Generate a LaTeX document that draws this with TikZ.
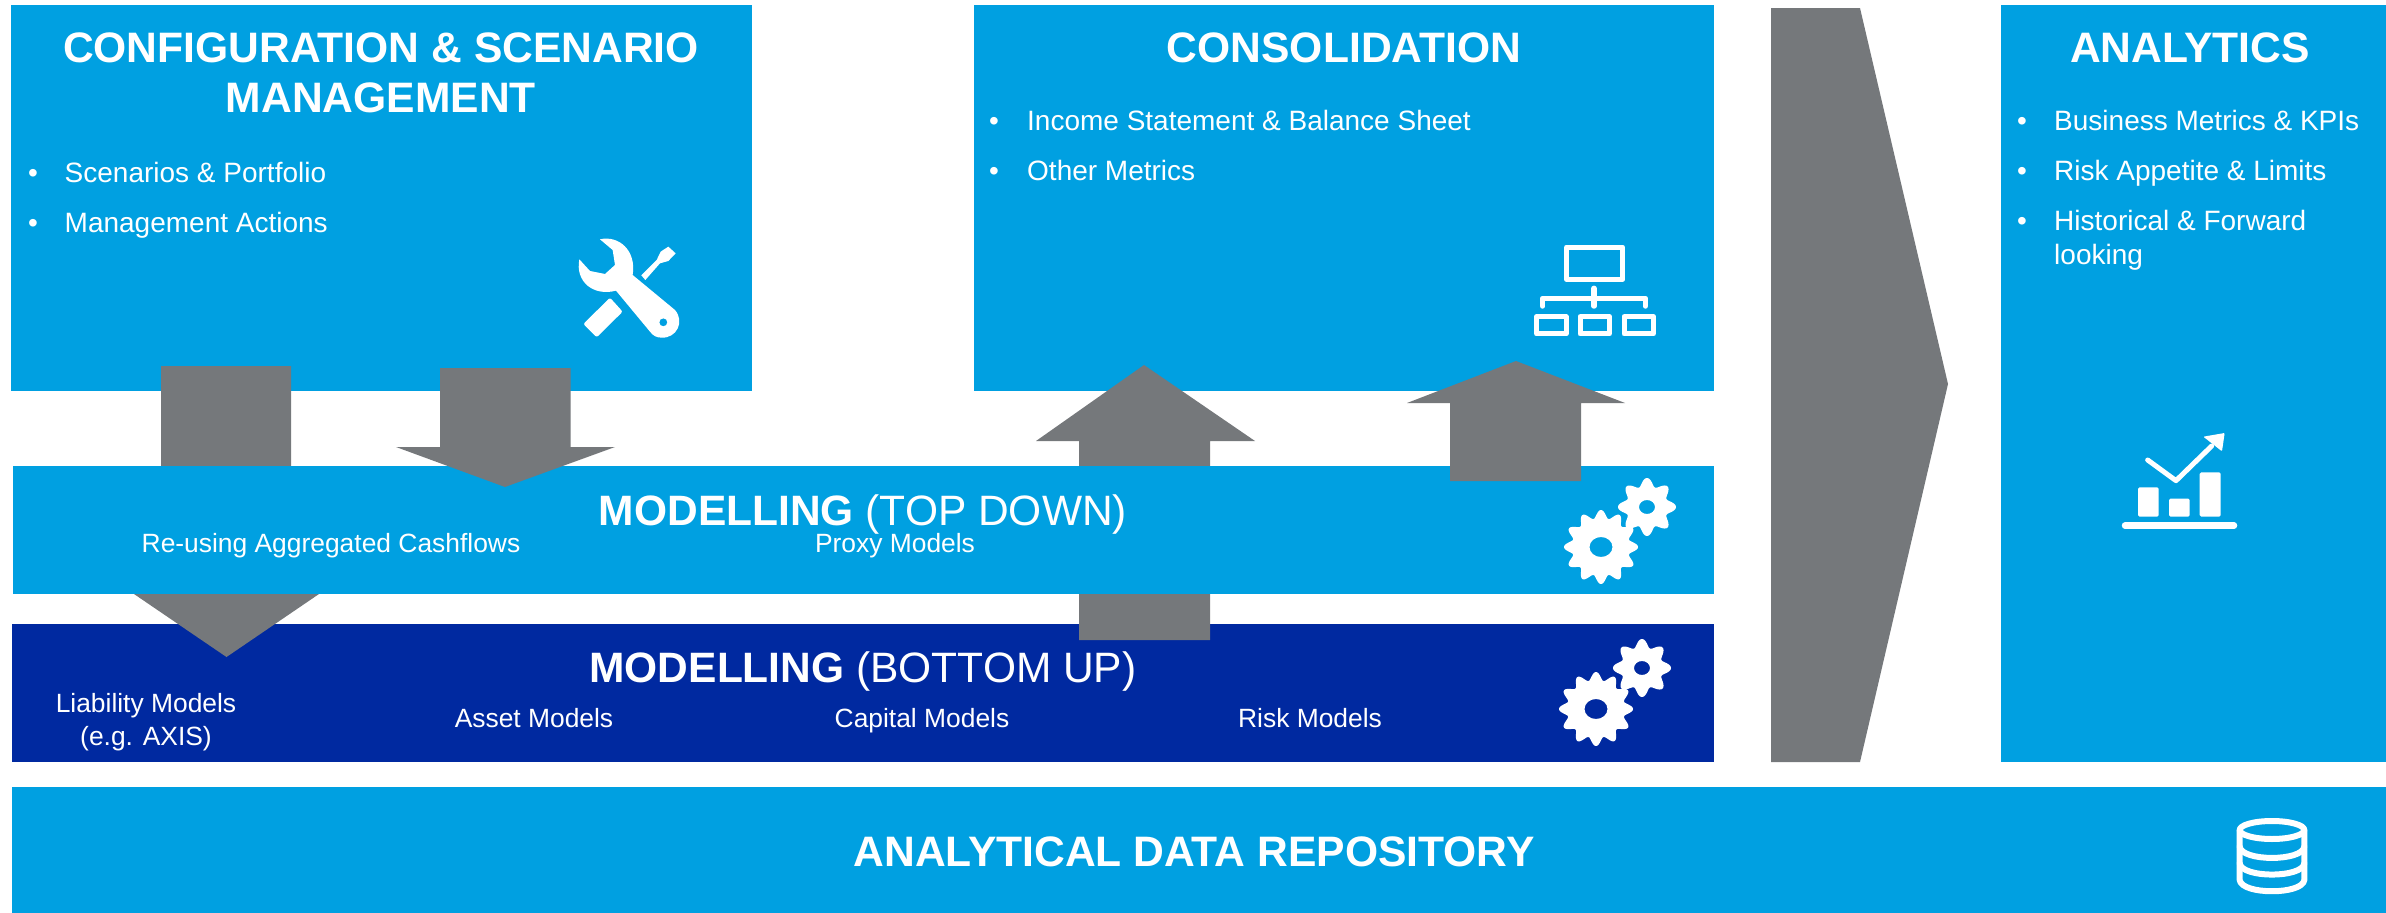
\documentclass[tikz,border=0pt]{standalone}
\usepackage{fontspec}
\setmainfont{Liberation Sans}
\definecolor{skyb}{HTML}{00A0E1}
\definecolor{navyb}{HTML}{0029A0}
\definecolor{arrowg}{HTML}{75787B}
\tikzset{
  panel/.style={fill=skyb,draw=none},
  darkpanel/.style={fill=navyb,draw=none},
  blockarrow/.style={fill=arrowg,draw=none},
  icon/.style={fill=white,draw=none},
  iconline/.style={draw=white,fill=none,line cap=round,line join=round},
  title/.style={text=white,font=\fontsize{42.6}{42.6}\selectfont\bfseries,anchor=base,inner sep=0pt},
  mtitle/.style={text=white,font=\fontsize{42.5}{42.5}\selectfont,anchor=base,inner sep=0pt},
  body/.style={text=white,font=\fontsize{28}{28}\selectfont,anchor=base west,inner sep=0pt},
  small/.style={text=white,font=\fontsize{26.4}{26.4}\selectfont,anchor=base,inner sep=0pt},
}
\newcommand{\gearshape}[7]{% cx cy outer root teeth hole-x hole-y
  \fill[icon,even odd rule] plot[domain=0:360,samples=300,smooth] ({#1+(#4+(#3-#4)*(0.5+0.5*cos(#5*\x)))*cos(\x)},{#2+(#4+(#3-#4)*(0.5+0.5*cos(#5*\x)))*sin(\x)}) -- cycle
  (#1,#2) ellipse [x radius=#6, y radius=#7];
}
\begin{document}
\begin{tikzpicture}[x=1pt,y=-1pt]
\useasboundingbox (0,0) rectangle (2386,913);
% panels
\path[panel] (11,5) rectangle (752,391);
\path[panel] (974,5) rectangle (1714,391);
\path[darkpanel] (12,624) rectangle (1714,762);
\path[panel] (2001,5) rectangle (2386,762);
\path[panel] (12,787) rectangle (2386,913);
% arrows behind the top-down panel
\path[blockarrow] (161,366) -- (291,366) -- (291,594) -- (319,594) -- (226.5,657) -- (134,594) -- (161,594) -- cycle;
\path[blockarrow] (1144,365) -- (1255,441) -- (1210,441) -- (1210,640) -- (1079,640) -- (1079,441) -- (1036,441) -- cycle;
\path[panel] (12.5,466) rectangle (1714,594);
% arrows in front
\path[blockarrow] (440,368) -- (570.5,368) -- (570.5,447) -- (615,447) -- (505,487) -- (396,447) -- (440,447) -- cycle;
\path[blockarrow] (1516,361) -- (1625,403) -- (1581,403) -- (1581,481) -- (1450,481) -- (1450,403) -- (1407,403) -- cycle;
\path[blockarrow] (1771,8) -- (1860,8) -- (1948,384) -- (1860,762) -- (1771,762) -- cycle;
% texts
\node[title] (cfg1) at (381,62) {CONFIGURATION \& SCENARIO};
\node[title] (cfg2) at (381,112) {MANAGEMENT};
\node[body,anchor=base] (bc1) at (33,182) {•};
\node[body] (c1) at (64.5,182) {Scenarios \& Portfolio};
\node[body,anchor=base] (bc2) at (33,232) {•};
\node[body] (c2) at (64.5,232) {Management Actions};
\node[title] (cons) at (1344,62) {CONSOLIDATION};
\node[body,anchor=base] (bd1) at (994,130) {•};
\node[body] (d1) at (1027,130) {Income Statement \& Balance Sheet};
\node[body,anchor=base] (bd2) at (994,180) {•};
\node[body] (d2) at (1027,180) {Other Metrics};
\node[title] (ana) at (2190,62) {ANALYTICS};
\node[body,anchor=base] (ba1) at (2022,130) {•};
\node[body] (a1) at (2054,130) {Business Metrics \& KPIs};
\node[body,anchor=base] (ba2) at (2022,180) {•};
\node[body] (a2) at (2054,180) {Risk Appetite \& Limits};
\node[body,anchor=base] (ba3) at (2022,230) {•};
\node[body] (a3) at (2054,230) {Historical \& Forward};
\node[body] (a4) at (2054,264) {looking};
\node[mtitle] (mt) at (863,525) {\textbf{MODELLING} (TOP DOWN)};
\node[small] (r1) at (331,552) {Re-using Aggregated Cashflows};
\node[small] (r2) at (895,552) {Proxy Models};
\node[mtitle] (mb) at (863,682) {\textbf{MODELLING} (BOTTOM UP)};
\node[small] (l1) at (146,712) {Liability Models};
\node[small] (l2) at (146,745) {(e.g. AXIS)};
\node[small] (l3) at (534,727) {Asset Models};
\node[small] (l4) at (922,727) {Capital Models};
\node[small] (l5) at (1310,727) {Risk Models};
\node[title] (adr) at (1194,866) {ANALYTICAL DATA REPOSITORY};
% gears
\gearshape{1601}{547}{37}{29}{12}{11.5}{10}
\gearshape{1647}{507}{29}{21}{8}{8}{7}
\gearshape{1596}{709}{37}{29}{12}{11.5}{10}
\gearshape{1642}{668}{29}{21}{8}{8}{7}
% wrench icon
\begin{scope}[shift={(540,200)},x=0.3333pt,y=-0.3333pt]
\fill[icon,even odd rule] (180,118) .. controls (235,105) and (290,150) .. (278,225)
  -- (405,330) .. controls (435,365) and (410,415) .. (365,413) .. controls (350,413) and (340,408) .. (330,395)
  -- (228,272) .. controls (160,290) and (105,245) .. (118,178) -- (150,213) -- (195,222) -- (225,195) -- (218,150) -- cycle
  (370,367) circle [radius=12];
\fill[icon] (304,226) -- (350,180) -- (362,155) -- (385,140) -- (407,160) -- (385,183) -- (360,190) -- (316,240) -- cycle;
\fill[icon,rounded corners=2pt] (130,372) -- (210,293) -- (248,335) -- (170,412) -- cycle;
\end{scope}
% org chart icon
\begin{scope}[shift={(1500,220)},x=0.3333pt,y=-0.3333pt]
\draw[iconline,line width=5pt] (200,81) rectangle (368,178);
\draw[iconline,line width=5.5pt] (282,205) -- (282,258) (128,258) -- (128,235) -- (436,235) -- (436,258);
\draw[iconline,line width=5pt] (110,290) rectangle (198,342);
\draw[iconline,line width=5pt] (240,290) rectangle (328,342);
\draw[iconline,line width=5pt] (372,290) rectangle (460,342);
\end{scope}
% chart icon
\begin{scope}[shift={(2090,410)},x=0.3333pt,y=-0.3333pt]
\fill[icon,rounded corners=1.5pt] (144,232) rectangle (206,320);
\fill[icon,rounded corners=1.5pt] (237,266) rectangle (299,320);
\fill[icon,rounded corners=1.5pt] (329,187) rectangle (392,320);
\draw[iconline,line width=6.5pt] (105,347) -- (432,347);
\draw[iconline,line width=5pt] (173,150) -- (258,212) -- (365,108);
\fill[icon,rounded corners=1pt] (340,80) -- (404,69) -- (396,124) -- cycle;
\end{scope}
% database icon
\begin{scope}[shift={(2210,800)},x=0.3333pt,y=-0.3333pt]
\draw[iconline,line width=6pt] (186,90) ellipse [x radius=97pt*0.3333, y radius=27pt*0.3333];
\draw[iconline,line width=6pt] (89,90) -- (89,240) .. controls (95,285) and (277,285) .. (283,240) -- (283,90);
\draw[iconline,line width=6pt] (89,140) .. controls (95,185) and (277,185) .. (283,140);
\draw[iconline,line width=6pt] (89,190) .. controls (95,235) and (277,235) .. (283,190);
\end{scope}
\end{tikzpicture}
\end{document}
